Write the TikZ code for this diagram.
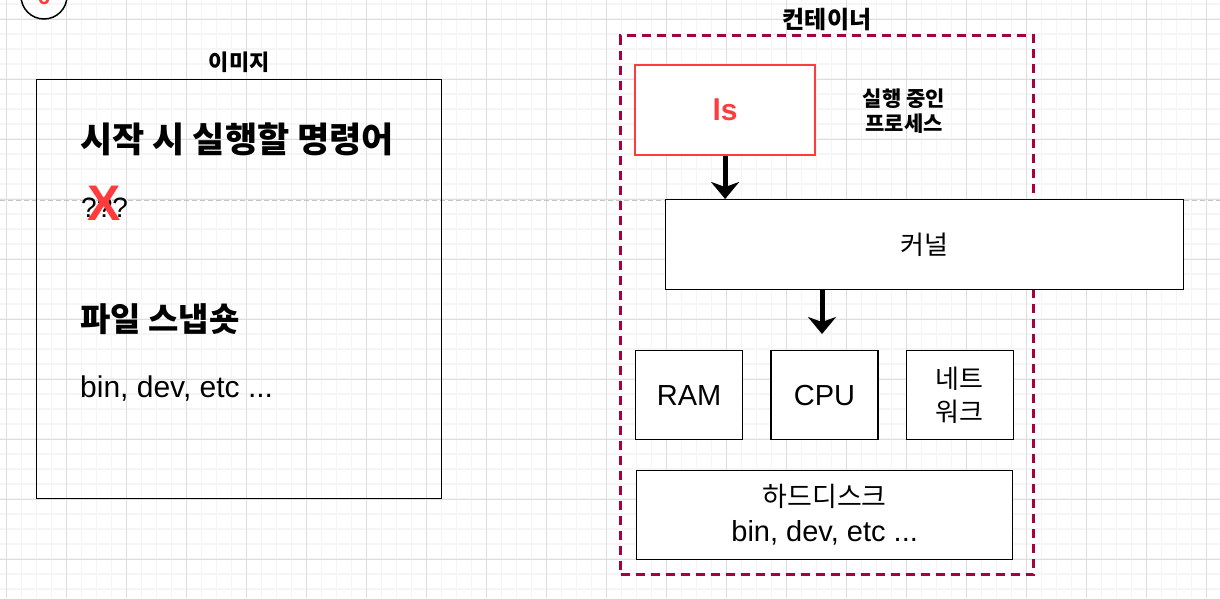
\documentclass[tikz,border=0pt]{standalone}
\usepackage{fontspec}
\setmainfont{Liberation Sans}
\newfontfamily\krfont{Noto Sans CJK KR}
\usetikzlibrary{arrows.meta,positioning,calc}
\usepackage{xcolor}
\definecolor{gridminor}{HTML}{F5F5F5}
\definecolor{gridmajor}{HTML}{DEDEDE}
\definecolor{seamgray}{HTML}{C4C4C4}
\definecolor{crimson}{HTML}{A50040}
\definecolor{lsred}{HTML}{FF3B3B}
\tikzset{
  minorgrid/.style = {draw=gridminor, line width=1.3pt},
  majorgrid/.style = {draw=gridmajor, line width=1pt},
  seam/.style      = {draw=seamgray, line width=1pt, dash pattern=on 5pt off 3pt},
  frame/.style     = {rectangle, draw, line width=1.3pt, inner sep=0pt},
  box/.style       = {rectangle, draw, line width=1.3pt, fill=white, align=center,
                      inner sep=0pt, font=\fontsize{29}{35}\selectfont},
  hw/.style        = {box, minimum width=107pt, minimum height=89pt},
  kr/.style        = {font=\krfont\fontsize{26}{33}\selectfont},
  procbox/.style   = {box, draw=lsred, line width=2.2pt, text=lsred,
                      font=\bfseries\fontsize{30}{30}\selectfont},
  container/.style = {rectangle, draw=crimson, line width=3pt,
                      dash pattern=on 9pt off 6pt, inner sep=0pt},
  title/.style     = {align=center, inner sep=0pt, font=\krfont\bfseries\fontsize{22}{24}\selectfont},
  heading/.style   = {anchor=west, inner sep=0pt, font=\krfont\bfseries\fontsize{35}{35}\selectfont},
  flow/.style      = {-{Stealth[length=17pt, width=28pt, inset=5pt]}, line width=5pt},
}

\begin{document}
\begin{tikzpicture}[x=1pt, y=-1pt, node distance=27pt]
  \useasboundingbox (0,0) rectangle (1220,598);
  % grid paper
  \fill[white] (0,0) rectangle (1220,598);
  \foreach \gx in {6.7,21.7,...,1220} \draw[minorgrid] (\gx,0) -- (\gx,598);
  \foreach \gy in {4,19,...,598} \draw[minorgrid] (0,\gy) -- (1220,\gy);
  \foreach \gx in {6.7,66.7,...,1220} \draw[majorgrid] (\gx,0) -- (\gx,598);
  \foreach \gy in {19,79,...,598} \draw[majorgrid] (0,\gy) -- (1220,\gy);
  \draw[seam] (0,200) -- (1220,200);

  % badge, cut by the page edge
  \node[circle, draw, line width=1.5pt, minimum size=46pt, inner sep=0pt] (badge) at (44,-4) {};
  \node[text=lsred, font=\bfseries\fontsize{22}{22}\selectfont, inner sep=0pt] (badgenum) at (44,-3) {6};

  % image
  \node[frame, minimum width=405pt, minimum height=419pt, anchor=north west] (image) at (36,79) {};
  \node[title] (imagetitle) at ($(image.north)+(0,-17)$) {이미지};
  \node[heading] (startcmd) at (80,139) {시작 시 실행할 명령어};
  \node[anchor=west, inner sep=0pt, font=\fontsize{28}{28}\selectfont] (unknown) at (81,208) {???};
  \node[text=lsred, inner sep=0pt, font=\bfseries\fontsize{50}{50}\selectfont] (cross) at (104,203) {X};
  \node[heading, font=\krfont\bfseries\fontsize{33}{33}\selectfont] (snapshot) at (80,319) {파일 스냅숏};
  \node[anchor=west, inner sep=0pt, font=\fontsize{30}{30}\selectfont] (imgfiles) at (80,389) {bin, dev, etc ...};

  % container
  \node[container, minimum width=413pt, minimum height=539pt, anchor=north west] (cont) at (619,34) {};
  \node[title, font=\krfont\bfseries\fontsize{24}{24}\selectfont] (conttitle) at ($(cont.north)+(0,-14)$) {컨테이너};
  \node[procbox, minimum width=180pt, minimum height=90pt, anchor=north west] (ls) at (634,64) {ls};
  \node[title, font=\krfont\bfseries\fontsize{21}{25}\selectfont] (proclabel) at (904,111) {실행 중인\\ 프로세스};
  \node[box, kr, minimum width=518pt, minimum height=90pt, anchor=north west] (kernel) at (665,199) {커널};
  \node[hw, anchor=north west] (ram) at (635,350) {RAM};
  \node[hw, right=of ram] (cpu) {CPU};
  \node[hw, kr, right=of cpu] (net) {네트\\워크};
  \node[box, minimum width=376pt, minimum height=89pt, anchor=north west] (hdd) at (636,470)
    {{\krfont\fontsize{27}{35}\selectfont 하드디스크}\\bin, dev, etc ...};

  \coordinate (kfoot) at (822,334);
  \draw[flow] (ls.south) -- (ls.south |- kernel.north);
  \draw[flow] (kfoot |- kernel.south) -- (kfoot);
\end{tikzpicture}
\end{document}
